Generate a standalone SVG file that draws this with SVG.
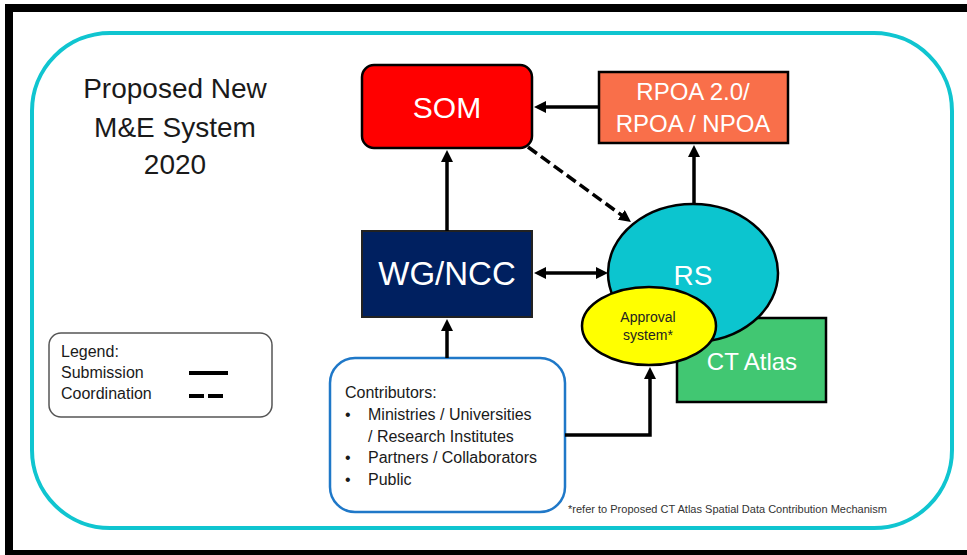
<svg xmlns="http://www.w3.org/2000/svg" width="967" height="555" viewBox="0 0 967 555">
<defs>
<style>
text{font-family:"Liberation Sans",Arial,sans-serif}
.wt{fill:#ffffff;text-anchor:middle}
.dk{fill:#1a1a1a}
.conn{fill:none;stroke:#000;stroke-width:3.5}
</style>
<marker id="ah" viewBox="0 0 12 12" refX="2" refY="6" markerWidth="12" markerHeight="12" markerUnits="userSpaceOnUse" orient="auto-start-reverse">
<path d="M0,0 L12,6 L0,12 z" fill="#000"/>
</marker>
</defs>
<rect x="0" y="0" width="967" height="555" fill="#ffffff"/>
<g id="frame" fill="#000">
<rect x="5" y="4" width="962" height="8"/>
<rect x="5" y="4" width="8" height="551"/>
<rect x="5" y="550" width="962" height="5"/>
</g>
<rect id="outer" x="32" y="33" width="920" height="495" rx="78" ry="78" fill="none" stroke="#10C5D0" stroke-width="4"/>
<g id="title" class="dk" font-size="28" text-anchor="middle">
<text x="175" y="98">Proposed New</text>
<text x="175" y="137">M&amp;E System</text>
<text x="175" y="174">2020</text>
</g>
<g id="legend">
<rect x="49" y="333" width="223" height="84" rx="12" ry="12" fill="#fff" stroke="#555" stroke-width="1.5"/>
<text x="61" y="357" font-size="16" class="dk">Legend:</text>
<text x="61" y="378" font-size="16" class="dk">Submission</text>
<text x="61" y="399" font-size="16" class="dk">Coordination</text>
<line x1="189" y1="373" x2="228" y2="373" stroke="#000" stroke-width="4"/>
<line x1="189" y1="396" x2="223" y2="396" stroke="#000" stroke-width="4" stroke-dasharray="15 4"/>
</g>
<g id="som">
<rect x="362" y="65" width="170" height="83" rx="12" ry="12" fill="#FF0000" stroke="#000" stroke-width="2.5"/>
<text x="447" y="118" font-size="30" class="wt">SOM</text>
</g>
<g id="rpoa">
<rect x="599" y="72" width="189" height="71" fill="#F96F4A" stroke="#000" stroke-width="2.5"/>
<text x="693" y="100" font-size="24" class="wt">RPOA 2.0/</text>
<text x="693" y="132" font-size="24" class="wt">RPOA / NPOA</text>
</g>
<g id="wgncc">
<rect x="362" y="231" width="170" height="86" fill="#002060" stroke="#222" stroke-width="2"/>
<text x="447" y="285" font-size="33" class="wt">WG/NCC</text>
</g>
<g id="ctatlas">
<rect x="677" y="318" width="149" height="84" fill="#41C772" stroke="#000" stroke-width="2.5"/>
<text x="752" y="370" font-size="24" class="wt">CT Atlas</text>
</g>
<g id="rs">
<ellipse cx="693" cy="273" rx="85" ry="69" fill="#0CC5CF" stroke="#000" stroke-width="2.5"/>
<text x="693" y="285" font-size="28" class="wt">RS</text>
</g>
<g id="approval">
<ellipse cx="649" cy="326" rx="67" ry="39" fill="#FFFF00" stroke="#000" stroke-width="2.5"/>
<text x="648" y="322" font-size="14" fill="#222" text-anchor="middle">Approval</text>
<text x="648" y="340" font-size="14" fill="#222" text-anchor="middle">system*</text>
</g>
<g id="contributors">
<rect x="330" y="358" width="235" height="154" rx="25" ry="25" fill="#fff" stroke="#1F78C8" stroke-width="2.5"/>
<g font-size="16" class="dk">
<text x="345" y="398">Contributors:</text>
<text x="345" y="420">•</text>
<text x="368" y="420">Ministries / Universities</text>
<text x="368" y="442">/ Research Institutes</text>
<text x="345" y="463">•</text>
<text x="368" y="463">Partners / Collaborators</text>
<text x="345" y="485">•</text>
<text x="368" y="485">Public</text>
</g>
</g>
<g id="connectors">
<path class="conn" d="M599,107 L544,107" marker-end="url(#ah)"/>
<path class="conn" d="M447,231 L447,160" marker-end="url(#ah)"/>
<path class="conn" d="M447,358 L447,329" marker-end="url(#ah)"/>
<path class="conn" d="M544,273 L598,273" marker-start="url(#ah)" marker-end="url(#ah)"/>
<path class="conn" d="M694,205 L694,155" marker-end="url(#ah)"/>
<path class="conn" d="M528,147 L622.9,216.1" stroke-dasharray="11 5" marker-end="url(#ah)"/>
<path class="conn" d="M565,435 L650,435 L650,377" marker-end="url(#ah)"/>
</g>
<text id="footnote" x="568" y="513" font-size="10.5" fill="#333" textLength="319" lengthAdjust="spacingAndGlyphs">*refer to Proposed CT Atlas Spatial Data Contribution Mechanism</text>
</svg>
